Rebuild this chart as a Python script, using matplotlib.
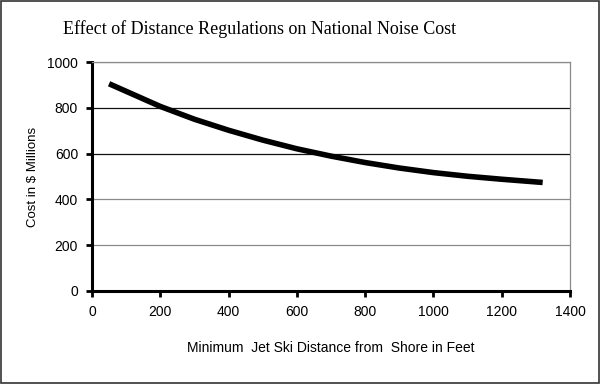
import matplotlib
matplotlib.use("Agg")
import matplotlib.pyplot as plt
from matplotlib.patches import Rectangle

# distance from shore (feet) and national noise cost ($ millions)
distance_ft = [50, 100, 200, 300, 400, 500, 600, 700, 800, 900, 1000, 1100, 1200, 1320]
cost_millions = [905, 872, 806, 750, 702, 659, 621, 589, 561, 537, 517, 501, 488, 474]

x_ticks = [0, 200, 400, 600, 800, 1000, 1200, 1400]
y_ticks = [0, 200, 400, 600, 800, 1000]
grid_colors = {200: "#8a8a8a", 400: "#8a8a8a", 600: "#111111", 800: "#111111", 1000: "#8a8a8a"}

fig = plt.figure(figsize=(6.0, 3.84), dpi=100)
ax = fig.add_axes([92 / 600, 1 - 291 / 384, 478 / 600, 229 / 384])

for y in y_ticks[1:]:
    ax.axhline(y, color=grid_colors[y], lw=0.9, zorder=1)

ax.plot(distance_ft, cost_millions, color="black", lw=4.0, solid_capstyle="butt", zorder=3)

ax.set_xlim(0, 1400)
ax.set_ylim(0, 1000)
ax.set_xticks(x_ticks)
ax.set_yticks(y_ticks)

ax.spines["left"].set_linewidth(2.2)
ax.spines["bottom"].set_linewidth(2.2)
ax.spines["top"].set_color("#8a8a8a")
ax.spines["right"].set_color("#8a8a8a")
ax.spines["top"].set_linewidth(0.9)
ax.spines["right"].set_linewidth(0.9)
ax.tick_params(axis="both", direction="out", length=4, width=2, labelsize=10, pad=6)
for lab in ax.get_xticklabels() + ax.get_yticklabels():
    lab.set_family("Liberation Sans")

ax.set_xlabel("Minimum  Jet Ski Distance from  Shore in Feet", fontsize=10,
              family="Liberation Sans", labelpad=16)
ax.set_ylabel("Cost in $ Millions", fontsize=9.5, family="Liberation Sans", labelpad=6)

fig.text(260 / 600, 1 - 29 / 384, "Effect of Distance Regulations on National Noise Cost",
         ha="center", va="center", fontsize=13, family="Liberation Serif")

# outer border of the chart
fig.patches.append(Rectangle((0.002, 0.003), 0.996, 0.994, transform=fig.transFigure,
                             fill=False, edgecolor="#333333", lw=1.2))

fig.savefig("out.png", dpi=100)
